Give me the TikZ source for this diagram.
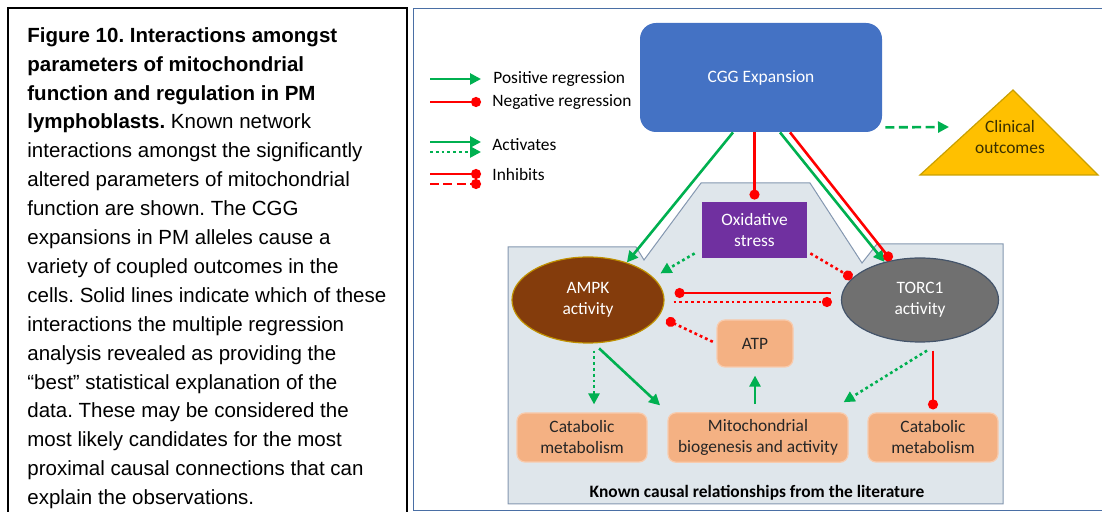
\documentclass[tikz,border=0pt]{standalone}
\usepackage{fontspec}
\setmainfont{Carlito}
\newfontfamily\capfont{Liberation Sans}
\usetikzlibrary{arrows.meta,shapes.geometric}

\definecolor{cggblue}{HTML}{4472C4}
\definecolor{oxipurple}{HTML}{7030A0}
\definecolor{ampkbrown}{HTML}{843C0C}
\definecolor{ampkgold}{HTML}{BF9000}
\definecolor{torcgray}{HTML}{707070}
\definecolor{torcedge}{HTML}{44546A}
\definecolor{salmon}{HTML}{F4B183}
\definecolor{salmonedge}{HTML}{F8CBAD}
\definecolor{clinyellow}{HTML}{FFC000}
\definecolor{clinedge}{HTML}{C9A000}
\definecolor{clintext}{HTML}{3A3000}
\definecolor{cgreen}{HTML}{00B050}
\definecolor{cred}{HTML}{FF0000}
\definecolor{panelfill}{HTML}{DFE6EB}
\definecolor{paneledge}{HTML}{8497B0}
\definecolor{framecol}{HTML}{4A6FA5}
\definecolor{darktext}{HTML}{262626}

\tikzset{
  cggbox/.style={rectangle, rounded corners=8pt, fill=cggblue, text=white,
    minimum width=121pt, minimum height=54.5pt},
  oxibox/.style={rectangle, fill=oxipurple, text=white, align=center,
    minimum width=52.5pt, minimum height=28pt},
  ampkell/.style={ellipse, fill=ampkbrown, draw=ampkgold, line width=0.6pt,
    text=white, align=center, minimum width=76pt, minimum height=43pt},
  torcell/.style={ellipse, fill=torcgray, draw=torcedge, line width=0.6pt,
    text=white, align=center, minimum width=78.5pt, minimum height=42pt},
  salmonbox/.style={rectangle, rounded corners=4pt, fill=salmon, draw=salmonedge,
    line width=0.6pt, text=darktext, align=center, minimum height=24.5pt},
  posarrow/.style={draw=cgreen, line width=1.3pt, ->},
  negdot/.style={draw=cred, line width=1.3pt, -{Circle[length=5pt]}},
  dotline/.style={dash pattern=on 1.4pt off 1.5pt},
  dashline/.style={dash pattern=on 4.5pt off 2.2pt},
  legtext/.style={anchor=west, inner sep=0pt}
}

\begin{document}
\begin{tikzpicture}[x=0.5pt, y=-0.5pt, font=\fontsize{8.7}{10.5}\selectfont,
    >={Triangle[length=5.5pt, width=5.5pt]}]
    \useasboundingbox (0,0) rectangle (1102,512);

    % caption panel
    \draw[black, line width=1pt] (8,514) -- (8,8) -- (407,8) -- (407,514);
    \node[anchor=north west, inner sep=0pt, align=left,
      font=\capfont\fontsize{10.25}{14.45}\selectfont\frenchspacing] (caption) at (27,27)
      {\textbf{Figure 10. Interactions amongst}\\
       \textbf{parameters of mitochondrial}\\
       \textbf{function and regulation in PM}\\
       \textbf{lymphoblasts.} Known network\\
       interactions amongst the significantly\\
       altered parameters of mitochondrial\\
       function are shown. The CGG\\
       expansions in PM alleles cause a\\
       variety of coupled outcomes in the\\
       cells. Solid lines indicate which of these\\
       interactions the multiple regression\\
       analysis revealed as providing the\\
       “best” statistical explanation of the\\
       data. These may be considered the\\
       most likely candidates for the most\\
       proximal causal connections that can\\
       explain the observations.};

    % diagram frame and literature panel
    \draw[framecol, line width=0.5pt] (1104,9) -- (413,9) -- (413,511) -- (1104,511);
    \draw[draw=paneledge, fill=panelfill, line width=0.5pt]
      (508,247) -- (636,247) -- (644,260) -- (701,183) -- (810,183) -- (862,263)
      -- (877,244) -- (1003,244) -- (1003,504) -- (508,504) -- cycle;

    % legend
    \coordinate (lgs) at (430,0);
    \coordinate (lge) at (481,0);
    \node[legtext] (legpos) at (493,79) {Positive regression};
    \node[legtext] (legneg) at (492,102) {Negative regression};
    \node[legtext] (legact) at (492,145) {Activates};
    \node[legtext] (leginh) at (492,175) {Inhibits};
    \draw[posarrow] (lgs |- legpos) -- (lge |- legpos);
    \draw[negdot] (lgs |- legneg) -- (lge |- legneg);
    \draw[posarrow] ([yshift=1.5pt]lgs |- legact) -- ([yshift=1.5pt]lge |- legact);
    \draw[posarrow, dotline] ([yshift=-3.5pt]lgs |- legact) -- ([yshift=-3.5pt]lge |- legact);
    \draw[negdot] ([yshift=0.5pt]lgs |- leginh) -- ([yshift=0.5pt]lge |- leginh);
    \draw[negdot, dashline] ([yshift=-4.5pt]lgs |- leginh) -- ([yshift=-4.5pt]lge |- leginh);

    % nodes
    \node[cggbox] (cgg) at (761,77.5) {CGG Expansion};
    \filldraw[fill=clinyellow, draw=clinedge, line width=0.6pt]
      (1013,90) -- (1098,175) -- (920,175) -- cycle;
    \node[align=center, text=clintext] (clin) at (1010,137) {Clinical\\outcomes};
    \coordinate (clinin) at (949,127);
    \node[oxibox] (oxi) at (754.5,230) {Oxidative\\stress};
    \node[ampkell] (ampk) at (588,300) {AMPK\\activity};
    \node[torcell] (torc) at (920,300) {TORC1\\activity};
    \node[salmonbox, minimum width=38pt, minimum height=23.5pt] (atp) at (755,343.5) {ATP};
    \node[salmonbox, minimum width=65pt] (catl) at (582,437.5) {Catabolic\\metabolism};
    \node[salmonbox, minimum width=90pt] (mito) at (758,437.5) {Mitochondrial\\biogenesis and activity};
    \node[salmonbox, minimum width=65pt] (catr) at (933,437.5) {Catabolic\\metabolism};
    \node[font=\bfseries\fontsize{8.7}{10.5}\selectfont] (known) at (757,493)
      {Known causal relationships from the literature};

    % connectors
    \draw[posarrow, dashline, shorten <=1.5pt] ([yshift=2.5pt]cgg.south east) -- (clinin);
    \draw[posarrow] ([xshift=-14pt]cgg.south) -- (ampk.44);
    \draw[negdot, shorten >=1pt] (oxi.north |- cgg.south) -- (oxi.north);
    \draw[posarrow] ([xshift=9.5pt]cgg.south) -- (torc.133);
    \draw[negdot] ([xshift=14.5pt]cgg.south) -- (torc.126);
    \draw[posarrow, dotline, shorten >=4pt] ([shift={(-3.5pt,2.5pt)}]oxi.south west) -- (ampk.19);
    \draw[negdot, dotline] ([shift={(1.5pt,2.5pt)}]oxi.south east) -- (torc.162);
    \draw[negdot, shorten <=5pt, shorten >=5pt] ([yshift=3.5pt]torc.west) -- ([yshift=3.5pt]ampk.east);
    \draw[negdot, dotline, shorten <=4.5pt, shorten >=4.5pt] ([yshift=-1pt]ampk.east) -- ([yshift=-1pt]torc.west);
    \draw[negdot, dotline, shorten <=2pt, shorten >=4pt] (atp.west) -- (ampk.-13);
    \draw[posarrow, dotline, shorten <=3.5pt, shorten >=4pt] ([xshift=3pt]ampk.south) -- ([xshift=3pt]ampk.south |- catl.north);
    \draw[posarrow, shorten <=3.5pt, shorten >=5pt] ([xshift=3pt]ampk.south) -- (mito.north west);
    \draw[posarrow, shorten <=4pt, shorten >=4pt] (atp.south |- mito.north) -- (atp.south);
    \draw[posarrow, dotline] ([shift={(3.5pt,-4pt)}]torc.south) -- ([shift={(-2.5pt,5pt)}]mito.north east);
    \draw[negdot, shorten <=4pt, shorten >=1.5pt] (catr.north |- torc.south) -- (catr.north);
\end{tikzpicture}
\end{document}
